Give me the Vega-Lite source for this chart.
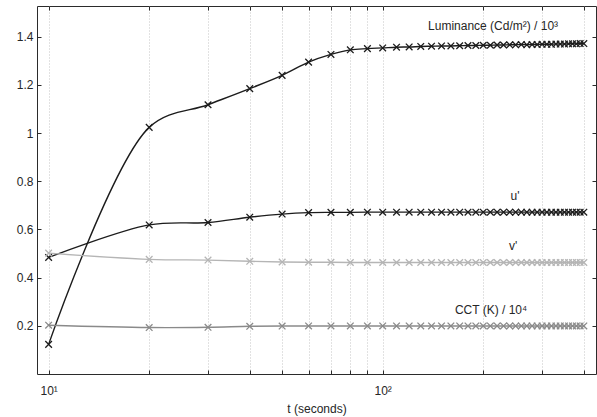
{
  "$schema": "https://vega.github.io/schema/vega-lite/v6.json",
  "width": 559,
  "height": 368,
  "autosize": {"type": "none"},
  "padding": {"left": 37, "top": 6, "right": 1, "bottom": 43},
  "config": {
    "view": {"stroke": "#2b2b2b", "strokeWidth": 1},
    "font": "Liberation Sans",
    "axis": {"labelFont": "Liberation Sans", "titleFont": "Liberation Sans", "labelFontSize": 12, "titleFontSize": 12, "titleFontWeight": "normal", "labelColor": "#262626", "titleColor": "#262626", "tickColor": "#2b2b2b", "domain": false}
  },
  "datasets": {
    "series": [
      {"t": 10, "s": "Luminance", "v": 0.123}, {"t": 20, "s": "Luminance", "v": 1.024}, {"t": 30, "s": "Luminance", "v": 1.118}, {"t": 40, "s": "Luminance", "v": 1.185},
      {"t": 50, "s": "Luminance", "v": 1.240}, {"t": 60, "s": "Luminance", "v": 1.295}, {"t": 70, "s": "Luminance", "v": 1.327}, {"t": 80, "s": "Luminance", "v": 1.346},
      {"t": 90, "s": "Luminance", "v": 1.351}, {"t": 100, "s": "Luminance", "v": 1.354}, {"t": 110, "s": "Luminance", "v": 1.357}, {"t": 120, "s": "Luminance", "v": 1.358},
      {"t": 130, "s": "Luminance", "v": 1.360}, {"t": 140, "s": "Luminance", "v": 1.361}, {"t": 150, "s": "Luminance", "v": 1.362}, {"t": 160, "s": "Luminance", "v": 1.362},
      {"t": 170, "s": "Luminance", "v": 1.363}, {"t": 180, "s": "Luminance", "v": 1.364}, {"t": 190, "s": "Luminance", "v": 1.364}, {"t": 200, "s": "Luminance", "v": 1.365},
      {"t": 210, "s": "Luminance", "v": 1.365}, {"t": 220, "s": "Luminance", "v": 1.366}, {"t": 230, "s": "Luminance", "v": 1.366}, {"t": 240, "s": "Luminance", "v": 1.367},
      {"t": 250, "s": "Luminance", "v": 1.367}, {"t": 260, "s": "Luminance", "v": 1.368}, {"t": 270, "s": "Luminance", "v": 1.367}, {"t": 280, "s": "Luminance", "v": 1.368},
      {"t": 290, "s": "Luminance", "v": 1.368}, {"t": 300, "s": "Luminance", "v": 1.369}, {"t": 310, "s": "Luminance", "v": 1.369}, {"t": 320, "s": "Luminance", "v": 1.369},
      {"t": 330, "s": "Luminance", "v": 1.370}, {"t": 340, "s": "Luminance", "v": 1.370}, {"t": 350, "s": "Luminance", "v": 1.370}, {"t": 360, "s": "Luminance", "v": 1.371},
      {"t": 370, "s": "Luminance", "v": 1.371}, {"t": 380, "s": "Luminance", "v": 1.371}, {"t": 390, "s": "Luminance", "v": 1.372}, {"t": 400, "s": "Luminance", "v": 1.372},

      {"t": 10, "s": "u", "v": 0.484}, {"t": 20, "s": "u", "v": 0.619}, {"t": 30, "s": "u", "v": 0.629}, {"t": 40, "s": "u", "v": 0.651},
      {"t": 50, "s": "u", "v": 0.664}, {"t": 60, "s": "u", "v": 0.670}, {"t": 70, "s": "u", "v": 0.671}, {"t": 80, "s": "u", "v": 0.671},
      {"t": 90, "s": "u", "v": 0.672}, {"t": 100, "s": "u", "v": 0.672}, {"t": 110, "s": "u", "v": 0.672}, {"t": 120, "s": "u", "v": 0.672},
      {"t": 130, "s": "u", "v": 0.672}, {"t": 140, "s": "u", "v": 0.672}, {"t": 150, "s": "u", "v": 0.672}, {"t": 160, "s": "u", "v": 0.672},
      {"t": 170, "s": "u", "v": 0.672}, {"t": 180, "s": "u", "v": 0.672}, {"t": 190, "s": "u", "v": 0.672}, {"t": 200, "s": "u", "v": 0.672},
      {"t": 210, "s": "u", "v": 0.672}, {"t": 220, "s": "u", "v": 0.672}, {"t": 230, "s": "u", "v": 0.672}, {"t": 240, "s": "u", "v": 0.672},
      {"t": 250, "s": "u", "v": 0.672}, {"t": 260, "s": "u", "v": 0.672}, {"t": 270, "s": "u", "v": 0.672}, {"t": 280, "s": "u", "v": 0.672},
      {"t": 290, "s": "u", "v": 0.672}, {"t": 300, "s": "u", "v": 0.672}, {"t": 310, "s": "u", "v": 0.672}, {"t": 320, "s": "u", "v": 0.672},
      {"t": 330, "s": "u", "v": 0.672}, {"t": 340, "s": "u", "v": 0.672}, {"t": 350, "s": "u", "v": 0.672}, {"t": 360, "s": "u", "v": 0.672},
      {"t": 370, "s": "u", "v": 0.672}, {"t": 380, "s": "u", "v": 0.672}, {"t": 390, "s": "u", "v": 0.672}, {"t": 400, "s": "u", "v": 0.672},

      {"t": 10, "s": "v", "v": 0.502}, {"t": 20, "s": "v", "v": 0.476}, {"t": 30, "s": "v", "v": 0.473}, {"t": 40, "s": "v", "v": 0.468},
      {"t": 50, "s": "v", "v": 0.465}, {"t": 60, "s": "v", "v": 0.464}, {"t": 70, "s": "v", "v": 0.464}, {"t": 80, "s": "v", "v": 0.463},
      {"t": 90, "s": "v", "v": 0.463}, {"t": 100, "s": "v", "v": 0.463}, {"t": 110, "s": "v", "v": 0.463}, {"t": 120, "s": "v", "v": 0.463},
      {"t": 130, "s": "v", "v": 0.463}, {"t": 140, "s": "v", "v": 0.463}, {"t": 150, "s": "v", "v": 0.463}, {"t": 160, "s": "v", "v": 0.463},
      {"t": 170, "s": "v", "v": 0.463}, {"t": 180, "s": "v", "v": 0.463}, {"t": 190, "s": "v", "v": 0.463}, {"t": 200, "s": "v", "v": 0.463},
      {"t": 210, "s": "v", "v": 0.463}, {"t": 220, "s": "v", "v": 0.463}, {"t": 230, "s": "v", "v": 0.463}, {"t": 240, "s": "v", "v": 0.463},
      {"t": 250, "s": "v", "v": 0.463}, {"t": 260, "s": "v", "v": 0.463}, {"t": 270, "s": "v", "v": 0.463}, {"t": 280, "s": "v", "v": 0.463},
      {"t": 290, "s": "v", "v": 0.463}, {"t": 300, "s": "v", "v": 0.463}, {"t": 310, "s": "v", "v": 0.463}, {"t": 320, "s": "v", "v": 0.463},
      {"t": 330, "s": "v", "v": 0.463}, {"t": 340, "s": "v", "v": 0.463}, {"t": 350, "s": "v", "v": 0.463}, {"t": 360, "s": "v", "v": 0.463},
      {"t": 370, "s": "v", "v": 0.463}, {"t": 380, "s": "v", "v": 0.463}, {"t": 390, "s": "v", "v": 0.463}, {"t": 400, "s": "v", "v": 0.463},

      {"t": 10, "s": "CCT", "v": 0.2025}, {"t": 20, "s": "CCT", "v": 0.193}, {"t": 30, "s": "CCT", "v": 0.194}, {"t": 40, "s": "CCT", "v": 0.198},
      {"t": 50, "s": "CCT", "v": 0.199}, {"t": 60, "s": "CCT", "v": 0.1995}, {"t": 70, "s": "CCT", "v": 0.1995}, {"t": 80, "s": "CCT", "v": 0.1996},
      {"t": 90, "s": "CCT", "v": 0.1996}, {"t": 100, "s": "CCT", "v": 0.1996}, {"t": 110, "s": "CCT", "v": 0.1996}, {"t": 120, "s": "CCT", "v": 0.1996},
      {"t": 130, "s": "CCT", "v": 0.1996}, {"t": 140, "s": "CCT", "v": 0.1996}, {"t": 150, "s": "CCT", "v": 0.1996}, {"t": 160, "s": "CCT", "v": 0.1996},
      {"t": 170, "s": "CCT", "v": 0.1996}, {"t": 180, "s": "CCT", "v": 0.1996}, {"t": 190, "s": "CCT", "v": 0.1996}, {"t": 200, "s": "CCT", "v": 0.1996},
      {"t": 210, "s": "CCT", "v": 0.1996}, {"t": 220, "s": "CCT", "v": 0.1996}, {"t": 230, "s": "CCT", "v": 0.1996}, {"t": 240, "s": "CCT", "v": 0.1996},
      {"t": 250, "s": "CCT", "v": 0.1996}, {"t": 260, "s": "CCT", "v": 0.1996}, {"t": 270, "s": "CCT", "v": 0.1996}, {"t": 280, "s": "CCT", "v": 0.1996},
      {"t": 290, "s": "CCT", "v": 0.1996}, {"t": 300, "s": "CCT", "v": 0.1996}, {"t": 310, "s": "CCT", "v": 0.1996}, {"t": 320, "s": "CCT", "v": 0.1996},
      {"t": 330, "s": "CCT", "v": 0.1996}, {"t": 340, "s": "CCT", "v": 0.1996}, {"t": 350, "s": "CCT", "v": 0.1996}, {"t": 360, "s": "CCT", "v": 0.1996},
      {"t": 370, "s": "CCT", "v": 0.1996}, {"t": 380, "s": "CCT", "v": 0.1996}, {"t": 390, "s": "CCT", "v": 0.1996}, {"t": 400, "s": "CCT", "v": 0.1996}
    ],
    "labels": [
      {"t": 214, "v": 1.444, "label": "Luminance (Cd/m²) / 10³"},
      {"t": 249, "v": 0.740, "label": "u'"},
      {"t": 245.6, "v": 0.532, "label": "v'"},
      {"t": 211, "v": 0.266, "label": "CCT (K) / 10⁴"}
    ]
  },
  "resolve": {"axis": {"x": "independent", "y": "independent"}},
  "layer": [
    {
      "data": {"name": "series"},
      "mark": {"type": "line", "interpolate": "catmull-rom", "strokeWidth": 1.4},
      "encoding": {
        "x": {"field": "t", "type": "quantitative",
          "scale": {"type": "log", "domain": [9.23, 435], "nice": false},
          "axis": {"orient": "bottom", "values": [10, 20, 30, 40, 50, 60, 70, 80, 90, 100, 200, 300, 400],
            "labelExpr": "datum.value == 10 ? '10¹' : (datum.value == 100 ? '10²' : '')",
            "labelFlush": false, "labelOverlap": false, "tickSize": -4, "labelPadding": 15,
            "grid": true, "gridDash": [1, 2], "gridColor": "#c4c4c4", "gridWidth": 1,
            "title": "t (seconds)", "titlePadding": 7}},
        "y": {"field": "v", "type": "quantitative",
          "scale": {"domain": [0, 1.528], "nice": false, "zero": false},
          "axis": {"orient": "left", "values": [0.2, 0.4, 0.6, 0.8, 1, 1.2, 1.4], "format": "~g",
            "tickSize": -4, "labelPadding": 8, "grid": false, "title": null}},
        "color": {"field": "s", "type": "nominal", "legend": null,
          "scale": {"domain": ["Luminance", "u", "v", "CCT"], "range": ["#1c1c1c", "#1c1c1c", "#b5b5b5", "#8a8a8a"]}},
        "detail": {"field": "s"}
      }
    },
    {
      "data": {"name": "series"},
      "mark": {"type": "point", "shape": "M-1,-1L1,1M-1,1L1,-1", "filled": false, "size": 44, "strokeWidth": 1.3, "opacity": 1},
      "encoding": {
        "x": {"field": "t", "type": "quantitative",
          "axis": {"orient": "top", "values": [10, 20, 30, 40, 50, 60, 70, 80, 90, 100, 200, 300, 400],
            "labels": false, "tickSize": -4, "grid": false, "title": null}},
        "y": {"field": "v", "type": "quantitative",
          "axis": {"orient": "right", "values": [0.2, 0.4, 0.6, 0.8, 1, 1.2, 1.4],
            "labels": false, "tickSize": -4, "grid": false, "title": null}},
        "color": {"field": "s", "type": "nominal", "legend": null}
      }
    },
    {
      "data": {"name": "labels"},
      "mark": {"type": "text", "font": "Liberation Sans", "fontSize": 12, "fill": "#262626", "align": "center", "baseline": "middle"},
      "encoding": {
        "x": {"field": "t", "type": "quantitative", "axis": null},
        "y": {"field": "v", "type": "quantitative", "axis": null},
        "text": {"field": "label"}
      }
    }
  ]
}
